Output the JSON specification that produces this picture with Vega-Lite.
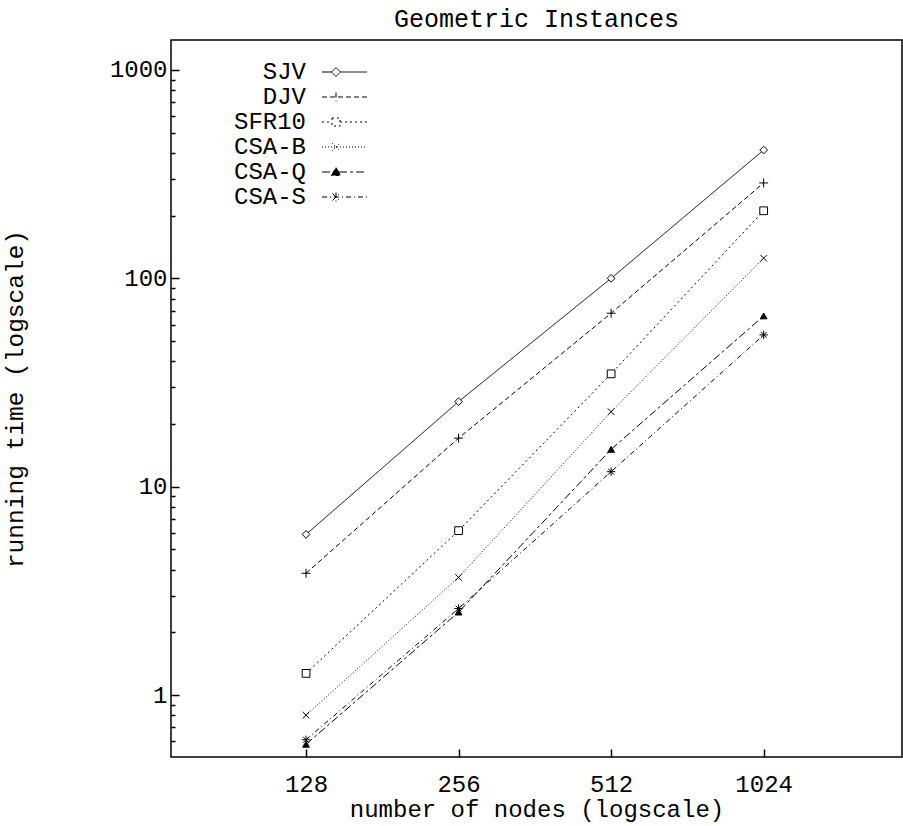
{
  "$schema": "https://vega.github.io/schema/vega-lite/v6.json",
  "autosize": "none",
  "width": 731,
  "height": 717,
  "padding": {"left": 171, "top": 40, "right": 1, "bottom": 69},
  "background": "white",
  "title": {"text": "Geometric Instances", "font": "Liberation Mono", "fontSize": 25, "fontWeight": "normal", "color": "black", "offset": 8},
  "config": {
    "view": {"stroke": "black", "strokeWidth": 1.5},
    "font": "Liberation Mono"
  },
  "data": {
    "values": [
      {"series": "SJV", "nodes": 128, "time": 5.9},
      {"series": "SJV", "nodes": 256, "time": 25.6},
      {"series": "SJV", "nodes": 512, "time": 100},
      {"series": "SJV", "nodes": 1024, "time": 413},
      {"series": "DJV", "nodes": 128, "time": 3.84},
      {"series": "DJV", "nodes": 256, "time": 17.1},
      {"series": "DJV", "nodes": 512, "time": 68},
      {"series": "DJV", "nodes": 1024, "time": 287},
      {"series": "SFR10", "nodes": 128, "time": 1.27},
      {"series": "SFR10", "nodes": 256, "time": 6.15},
      {"series": "SFR10", "nodes": 512, "time": 34.8},
      {"series": "SFR10", "nodes": 1024, "time": 211},
      {"series": "CSA-B", "nodes": 128, "time": 0.8},
      {"series": "CSA-B", "nodes": 256, "time": 3.67},
      {"series": "CSA-B", "nodes": 512, "time": 22.9},
      {"series": "CSA-B", "nodes": 1024, "time": 125},
      {"series": "CSA-Q", "nodes": 128, "time": 0.58},
      {"series": "CSA-Q", "nodes": 256, "time": 2.5},
      {"series": "CSA-Q", "nodes": 512, "time": 15.1},
      {"series": "CSA-Q", "nodes": 1024, "time": 66},
      {"series": "CSA-S", "nodes": 128, "time": 0.61},
      {"series": "CSA-S", "nodes": 256, "time": 2.6},
      {"series": "CSA-S", "nodes": 512, "time": 11.8},
      {"series": "CSA-S", "nodes": 1024, "time": 53.5}
    ]
  },
  "encoding": {
    "x": {
      "field": "nodes", "type": "quantitative",
      "scale": {"type": "log", "base": 2, "domain": [69.3, 1920], "nice": false, "zero": false},
      "axis": {
        "orient": "bottom", "values": [128, 256, 512, 1024], "format": "d",
        "title": "number of nodes (logscale)", "titleFont": "Liberation Mono", "titleFontSize": 24, "titleFontWeight": "normal", "titleColor": "black", "titlePadding": 1,
        "labelFont": "Liberation Mono", "labelFontSize": 24, "labelColor": "black", "labelPadding": 23,
        "ticks": true, "tickSize": -8, "tickColor": "black", "tickWidth": 1.5, "tickOpacity": 1,
        "grid": false, "domain": false, "labelFlush": false, "labelOverlap": false
      }
    },
    "y": {
      "field": "time", "type": "quantitative",
      "scale": {"type": "log", "domain": [0.504, 1393], "nice": false, "zero": false},
      "axis": {
        "orient": "left",
        "values": [0.6, 0.7, 0.8, 0.9, 1, 2, 3, 4, 5, 6, 7, 8, 9, 10, 20, 30, 40, 50, 60, 70, 80, 90, 100, 200, 300, 400, 500, 600, 700, 800, 900, 1000],
        "labelExpr": "(datum.value == 1 || datum.value == 10 || datum.value == 100 || datum.value == 1000) ? format(datum.value, 'd') : ''",
        "title": "running time (logscale)", "titleFont": "Liberation Mono", "titleFontSize": 24.5, "titleFontWeight": "normal", "titleColor": "black", "titlePadding": 82,
        "labelFont": "Liberation Mono", "labelFontSize": 24, "labelColor": "black", "labelPadding": 12,
        "ticks": true,
        "tickSize": {"condition": {"test": "datum.value == 1 || datum.value == 10 || datum.value == 100 || datum.value == 1000", "value": -8}, "value": -4},
        "tickColor": "black", "tickWidth": 1.5, "tickOpacity": 1,
        "grid": false, "domain": false, "labelFlush": false, "labelOverlap": false
      }
    }
  },
  "layer": [
    {
      "mark": {"type": "line", "color": "black", "strokeWidth": 1},
      "encoding": {
        "strokeDash": {
          "field": "series", "type": "nominal",
          "scale": {"domain": ["SJV", "DJV", "SFR10", "CSA-B", "CSA-Q", "CSA-S"], "range": [[1, 0], [5, 3], [2, 3], [1, 2], [8, 3, 3, 3], [5, 3, 1, 3]]},
          "legend": {
            "orient": "none", "legendX": 153, "legendY": 20, "padding": 0, "title": null,
            "symbolSize": 100,
            "symbolType": {"expr": "datum.value == 'SJV' ? 'M-2.8,0L-0.9,0M0.9,0L6.2,0M0,-0.9L0.9,0L0,0.9L-0.9,0Z' : datum.value == 'DJV' ? 'M-2.8,0L6.2,0M0,-0.9L0,0.9' : datum.value == 'SFR10' ? 'M-2.8,0L-0.8,0M0.8,0L6.2,0M-0.8,-0.8L0.8,-0.8L0.8,0.8L-0.8,0.8Z' : datum.value == 'CSA-B' ? 'M-2.8,0L6.2,0M-0.8,-0.8L0.8,0.8M-0.8,0.8L0.8,-0.8' : datum.value == 'CSA-Q' ? 'M-2.8,0L6.2,0M0,-0.9L0.9,0.7L-0.9,0.7Z' : 'M-2.8,0L6.2,0M0,-0.9L0,0.9M-0.7,-0.7L0.7,0.7M-0.7,0.7L0.7,-0.7'"},
            "symbolFillColor": {"expr": "datum.value == 'CSA-Q' ? 'black' : 'transparent'"},
            "symbolStrokeColor": "black", "symbolStrokeWidth": 1,
            "labelFont": "Liberation Mono", "labelFontSize": 24, "labelColor": "black", "labelAlign": "right", "labelOffset": -42, "rowPadding": 1, "labelLimit": 300
          }
        }
      }
    },
    {
      "transform": [{"filter": "datum.series == 'SJV'"}],
      "mark": {"type": "point", "shape": "diamond", "filled": true, "fill": "white", "stroke": "black", "strokeWidth": 1, "size": 60, "opacity": 1}
    },
    {
      "transform": [{"filter": "datum.series == 'DJV'"}],
      "mark": {"type": "point", "shape": "M-1,0L1,0M0,-1L0,1", "filled": false, "stroke": "black", "strokeWidth": 1, "size": 80, "opacity": 1}
    },
    {
      "transform": [{"filter": "datum.series == 'SFR10'"}],
      "mark": {"type": "point", "shape": "square", "filled": true, "fill": "white", "stroke": "black", "strokeWidth": 1, "size": 60, "opacity": 1}
    },
    {
      "transform": [{"filter": "datum.series == 'CSA-B'"}],
      "mark": {"type": "point", "shape": "M-0.8,-0.8L0.8,0.8M-0.8,0.8L0.8,-0.8", "filled": false, "stroke": "black", "strokeWidth": 1, "size": 70, "opacity": 1}
    },
    {
      "transform": [{"filter": "datum.series == 'CSA-Q'"}],
      "mark": {"type": "point", "shape": "triangle-up", "filled": true, "fill": "black", "stroke": "black", "strokeWidth": 1, "size": 45, "opacity": 1}
    },
    {
      "transform": [{"filter": "datum.series == 'CSA-S'"}],
      "mark": {"type": "point", "shape": "M-1,0L1,0M0,-1L0,1M-0.7,-0.7L0.7,0.7M-0.7,0.7L0.7,-0.7", "filled": false, "stroke": "black", "strokeWidth": 1, "size": 70, "opacity": 1}
    }
  ]
}
